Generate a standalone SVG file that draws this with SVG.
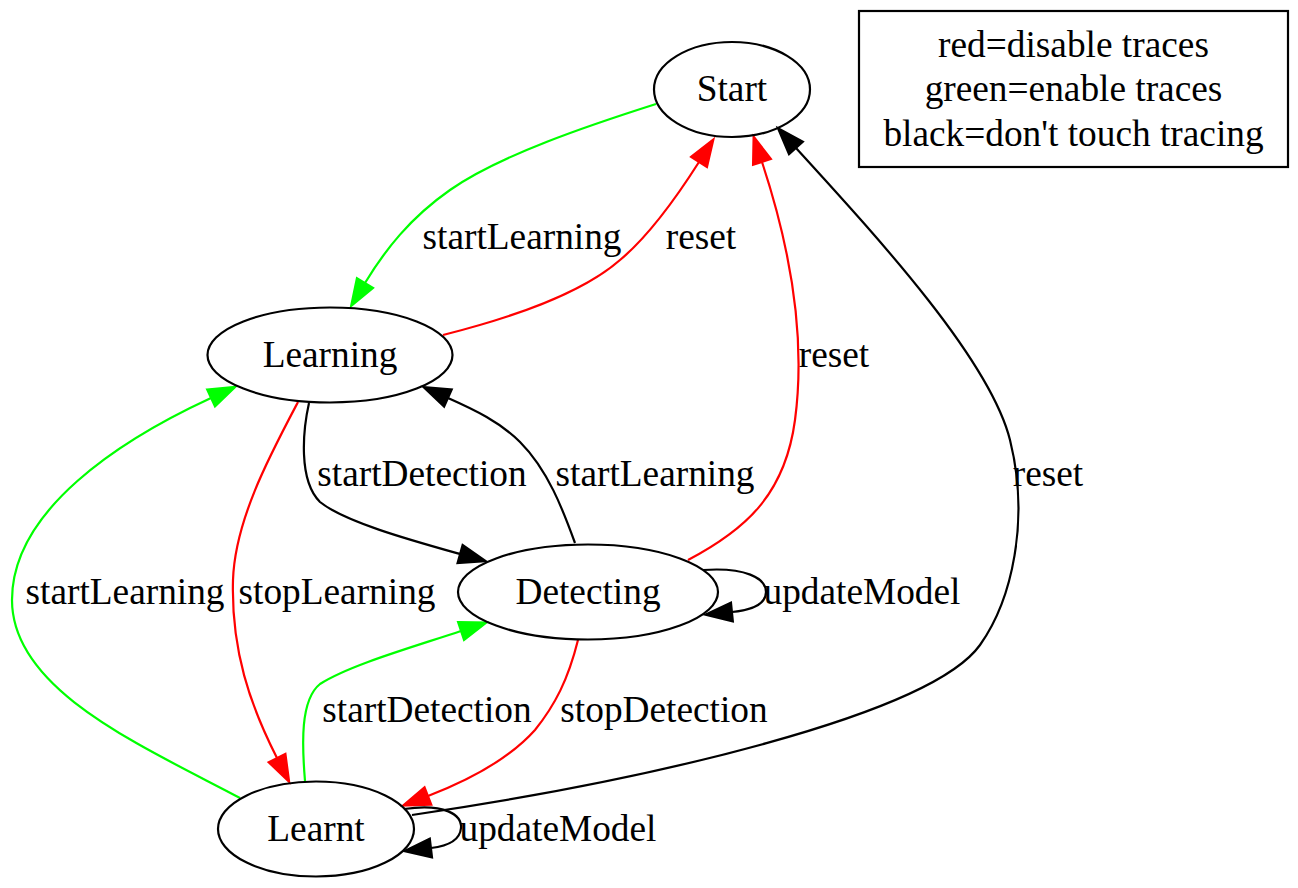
<svg xmlns="http://www.w3.org/2000/svg" width="1298" height="888" viewBox="0 0 1298 888">
<defs>
<style>
.node ellipse{fill:none;stroke:#000;stroke-width:2.2}
text{font-family:"Liberation Serif","Times New Roman",serif;font-size:37.33px;fill:#000;text-anchor:middle}
.e{fill:none;stroke-width:2.2}
.r{stroke:#ff0000;marker-end:url(#ar)}
.g{stroke:#00ff00;marker-end:url(#ag)}
.k{stroke:#000;marker-end:url(#ak)}
</style>
<marker id="ar" markerUnits="userSpaceOnUse" viewBox="0 -11 29 22" refX="0" refY="0" markerWidth="29" markerHeight="22" orient="auto" overflow="visible"><path d="M0,-9.5 L27,0 L0,9.5 z" fill="#ff0000" stroke="#ff0000" stroke-width="2"/></marker>
<marker id="ag" markerUnits="userSpaceOnUse" viewBox="0 -11 29 22" refX="0" refY="0" markerWidth="29" markerHeight="22" orient="auto" overflow="visible"><path d="M0,-9.5 L27,0 L0,9.5 z" fill="#00ff00" stroke="#00ff00" stroke-width="2"/></marker>
<marker id="ak" markerUnits="userSpaceOnUse" viewBox="0 -11 29 22" refX="0" refY="0" markerWidth="29" markerHeight="22" orient="auto" overflow="visible"><path d="M0,-9.5 L27,0 L0,9.5 z" fill="#000" stroke="#000" stroke-width="2"/></marker>
</defs>
<rect width="1298" height="888" fill="#fff"/>
<g id="connectors">
<path class="e g" d="M656,104 C590,125 500,155 450,190 C410,218 385,250 365,283"/>
<text x="522" y="249">startLearning</text>
<path class="e r" d="M443,335 C510,318 580,295 620,260 C650,235 678,195 699,162"/>
<text x="701" y="249">reset</text>
<path class="e r" d="M688,560 C745,530 785,495 795,420 C805,345 795,262 762,162"/>
<text x="834" y="367">reset</text>
<path class="e k" d="M412,815 C650,780 930,715 980,645 C1012,600 1030,520 1010,440 C990,360 880,240 796,148"/>
<text x="1048" y="486">reset</text>
<path class="e k" d="M309,403 C303,430 298,480 320,502 C345,522 410,540 460,554"/>
<text x="422" y="486">startDetection</text>
<path class="e k" d="M575,543 C563,510 548,470 520,442 C500,422 475,410 448,398"/>
<text x="655" y="486">startLearning</text>
<path class="e r" d="M298,402 C270,455 235,520 233,580 C231,650 250,705 277,758"/>
<text x="337" y="604">stopLearning</text>
<path class="e g" d="M240,798 C140,745 12,690 12,600 C12,510 120,440 211,398"/>
<text x="125" y="604">startLearning</text>
<path class="e k" d="M703,570 C745,567 766,578 766,592 C766,604 752,610 732,612"/>
<text x="862" y="604">updateModel</text>
<path class="e g" d="M305,781 C302,745 300,700 320,684 C350,665 410,648 461,631"/>
<text x="427" y="722">startDetection</text>
<path class="e r" d="M578,640 C568,680 555,705 535,730 C510,758 472,779 428,796"/>
<text x="664" y="722">stopDetection</text>
<path class="e k" d="M404,809 C445,803 462,815 461,828 C460,840 448,846 431,848"/>
<text x="558" y="841">updateModel</text>
</g>
<g id="node-start" class="node"><ellipse cx="732" cy="89.5" rx="78" ry="47.5"/><text x="732" y="101">Start</text></g>
<g id="node-learning" class="node"><ellipse cx="330" cy="355" rx="122.5" ry="47.5"/><text x="330" y="367">Learning</text></g>
<g id="node-detecting" class="node"><ellipse cx="588" cy="592" rx="130" ry="47.5"/><text x="588" y="604">Detecting</text></g>
<g id="node-learnt" class="node"><ellipse cx="316" cy="829" rx="98" ry="47.5"/><text x="316" y="841">Learnt</text></g>
<g id="legend"><rect x="859" y="11" width="429" height="156" fill="none" stroke="#000" stroke-width="2.2"/>
<text x="1073.5" y="57">red=disable traces</text>
<text x="1073.5" y="101">green=enable traces</text>
<text x="1073.5" y="146">black=don't touch tracing</text></g>
</svg>
